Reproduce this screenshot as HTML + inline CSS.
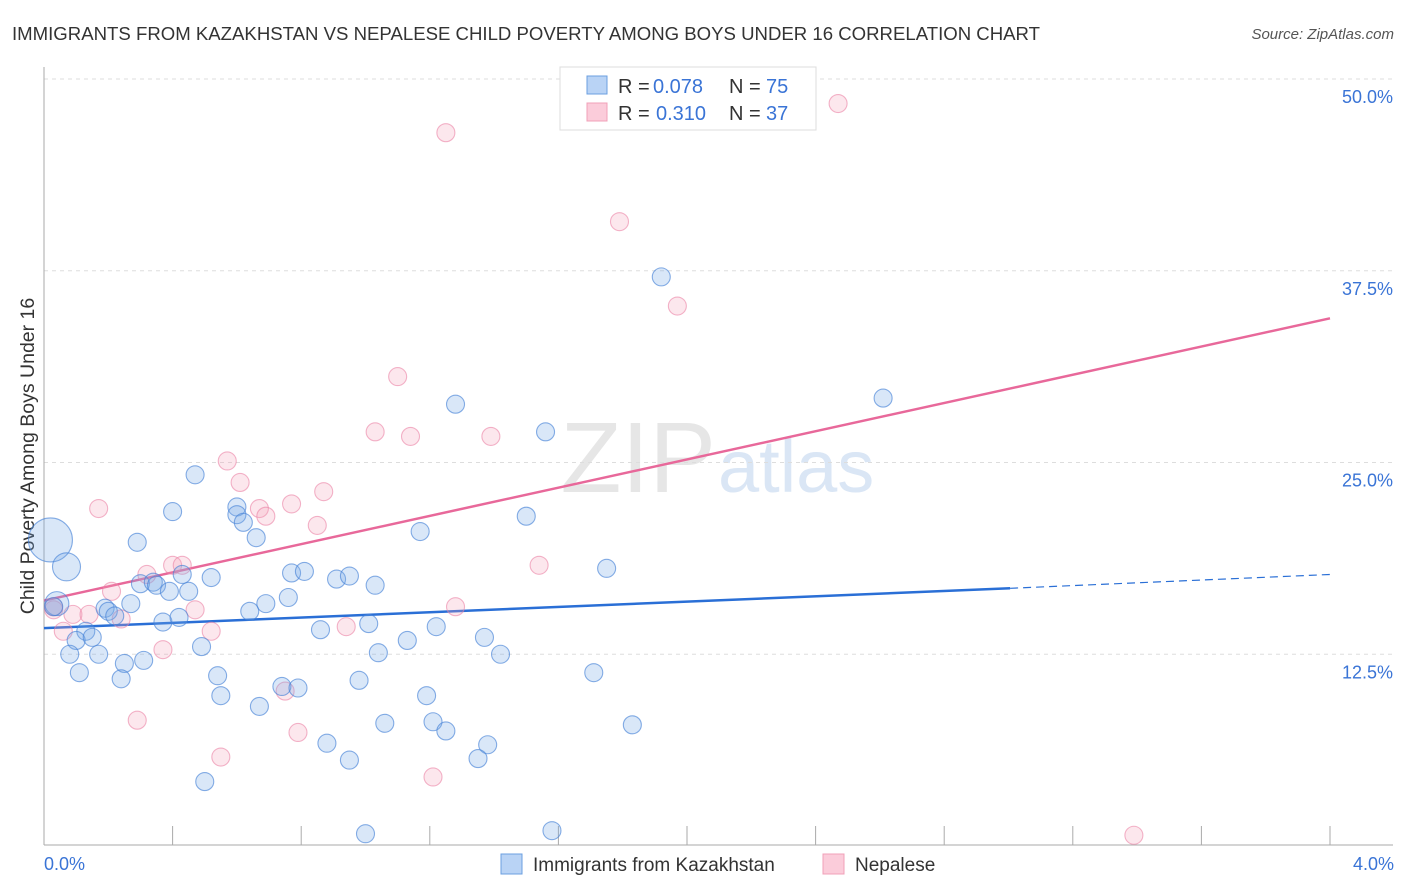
<!DOCTYPE html>
<html><head><meta charset="utf-8"><style>
body{margin:0;background:#fff;font-family:"Liberation Sans",sans-serif;}
#wrap{position:relative;width:1406px;height:892px;overflow:hidden;}
svg text{font-family:"Liberation Sans",sans-serif;}
</style></head><body>
<div id="wrap">
<svg id="chart" width="1406" height="892">
<text x="12" y="40" font-size="18.6" fill="#333">IMMIGRANTS FROM KAZAKHSTAN VS NEPALESE CHILD POVERTY AMONG BOYS UNDER 16 CORRELATION CHART</text>
<text x="1394" y="39" font-size="15" fill="#555" font-style="italic" text-anchor="end">Source: ZipAtlas.com</text>
<text x="34" y="456" font-size="19.5" fill="#333" text-anchor="middle" transform="rotate(-90 34 456)">Child Poverty Among Boys Under 16</text>
<text x="716" y="492" font-size="100" fill="#e6e6e6" text-anchor="end" font-family="Liberation Serif">ZIP</text>
<text x="718" y="492" font-size="74" fill="#dae6f5">atlas</text>
<g id="grid"></g><g id="axes"></g><g id="trend"></g><g id="pts"></g>
<g>
<rect x="560" y="67" width="256" height="63" fill="#fff" stroke="#ddd"/>
<rect x="587" y="76" width="20" height="18" fill="#b9d3f5" stroke="#6b9fe0"/>
<rect x="587" y="103" width="20" height="18" fill="#fbccda" stroke="#f0a0b8"/>
<text x="618" y="93" font-size="20" fill="#333">R =</text>
<text x="653" y="93" font-size="20" fill="#3a74d6">0.078</text>
<text x="729" y="93" font-size="20" fill="#333">N =</text>
<text x="766" y="93" font-size="20" fill="#3a74d6">75</text>
<text x="618" y="120" font-size="20" fill="#333">R =</text>
<text x="656" y="120" font-size="20" fill="#3a74d6">0.310</text>
<text x="729" y="120" font-size="20" fill="#333">N =</text>
<text x="766" y="120" font-size="20" fill="#3a74d6">37</text>
</g>
<g>
<rect x="501" y="854" width="21" height="20" fill="#b9d3f5" stroke="#6b9fe0"/>
<text x="533" y="871" font-size="19" fill="#333">Immigrants from Kazakhstan</text>
<rect x="823" y="854" width="21" height="20" fill="#fbccda" stroke="#f0a0b8"/>
<text x="855" y="871" font-size="19" fill="#333">Nepalese</text>
</g>
</svg></div>
<script>
const xTicks=[0,0.4,0.8,1.2,1.6,2.0,2.4,2.8,3.2,3.6,4.0];
const yTicks=[12.5,25,37.5,50];
const yTickLabels=["12.5%","25.0%","37.5%","50.0%"];
const xLabels=["0.0%","4.0%"];
const blueX=[0.02,0.07,0.04,0.29,0.40,0.47,0.60,0.60,0.62,0.66,1.17,1.28,1.56,1.50,1.92,2.61,1.75,0.30,0.34,0.35,0.39,0.43,0.45,0.52,0.77,0.81,0.91,0.95,1.03,0.19,0.20,0.22,0.27,0.37,0.42,0.64,0.69,0.76,0.86,1.01,1.22,1.37,1.42,1.13,1.04,0.13,0.10,0.15,0.08,0.17,0.11,0.25,0.31,0.24,0.49,0.54,0.55,0.67,0.74,0.79,0.98,1.19,1.06,1.21,1.25,0.88,0.95,1.38,1.35,0.50,1.00,1.58,1.71,1.83,0.03];
const blueY=[19.95,18.2,15.8,19.8,21.8,24.2,22.1,21.6,21.1,20.1,20.5,28.8,27.0,21.5,37.1,29.2,18.1,17.1,17.2,17.0,16.6,17.7,16.6,17.5,17.8,17.9,17.4,17.6,17.0,15.5,15.3,15.0,15.8,14.6,14.9,15.3,15.8,16.2,14.1,14.5,14.3,13.6,12.5,13.4,12.6,14.0,13.4,13.6,12.5,12.5,11.3,11.9,12.1,10.9,13.0,11.1,9.8,9.1,10.4,10.3,10.8,9.8,8.0,8.1,7.5,6.7,5.6,6.6,5.7,4.2,0.8,1.0,11.3,7.9,15.6];
const blueR=[22,14,12];
const pinkX=[1.25,2.47,1.79,1.97,1.10,1.03,1.14,1.39,0.57,0.61,0.87,0.17,0.67,0.69,0.77,0.85,1.54,0.40,0.43,0.32,0.21,0.03,0.03,0.09,0.14,0.24,0.47,1.28,0.06,0.52,0.94,0.37,0.75,0.29,0.79,0.55,1.21,3.39];
const pinkY=[46.5,48.4,40.7,35.2,30.6,27.0,26.7,26.7,25.1,23.7,23.1,22.0,22.0,21.5,22.3,20.9,18.3,18.3,18.3,17.7,16.6,15.4,15.6,15.1,15.1,14.8,15.4,15.6,14.0,14.0,14.3,12.8,10.1,8.2,7.4,5.8,4.5,0.7];
const blueTrend=[14.2,16.8,17.7], blueTrendX=[0,3.005,4.0];
const pinkTrend=[16.0,34.4], pinkTrendX=[0,4.0];
const X=v=>44+v/4*1286, Y=v=>846-v/50*767;
const NS="http://www.w3.org/2000/svg";
function mk(p,t,a){const e=document.createElementNS(NS,t);for(const k in a)e.setAttribute(k,a[k]);p.appendChild(e);return e;}
const grid=document.getElementById('grid'),axes=document.getElementById('axes'),trend=document.getElementById('trend'),pts=document.getElementById('pts');
yTicks.forEach((v,i)=>{
 const l=mk(grid,'line',{x1:44,x2:1393,y1:Y(v),y2:Y(v),stroke:'#ddd','stroke-dasharray':'4,4'});
 
 
 const t=mk(axes,'text',{x:1393,y:Y(v)+24,'font-size':18,fill:'#3a74d6','text-anchor':'end'});t.textContent=yTickLabels[i];
 
 
});
const ax=mk(axes,'line',{x1:44,x2:1393,y1:845,y2:845,stroke:'#aaa'});


const ay=mk(axes,'line',{x1:44,x2:44,y1:67,y2:845,stroke:'#aaa'});


xTicks.forEach(v=>{const t=mk(axes,'line',{x1:X(v),x2:X(v),y1:826,y2:845,stroke:'#aaa'});
 
 });
[[0,'start',44],[4,'end',1394]].forEach((d,i)=>{const t=mk(axes,'text',{x:d[2],y:870,'font-size':18,fill:'#3a74d6','text-anchor':d[1]});t.textContent=xLabels[i];
 
 });
function dot(x,y,r,fill,stroke,name){const c=mk(pts,'circle',{cx:X(x),cy:Y(y),r:r,fill:fill,stroke:stroke,'stroke-width':1.1});
 
 }
pinkX.forEach((x,i)=>dot(x,pinkY[i],9,'rgba(245,160,185,0.25)','rgba(235,130,165,0.6)','nepalese-point'));
blueX.forEach((x,i)=>dot(x,blueY[i],blueR[i]||9,'rgba(120,170,230,0.28)','rgba(70,130,215,0.65)','kazakhstan-point'));
const b1=mk(trend,'line',{x1:X(blueTrendX[0]),y1:Y(blueTrend[0]),x2:X(blueTrendX[1]),y2:Y(blueTrend[1]),stroke:'#2a6fd6','stroke-width':2.5});


const b2=mk(trend,'line',{x1:X(blueTrendX[1]),y1:Y(blueTrend[1]),x2:X(blueTrendX[2]),y2:Y(blueTrend[2]),stroke:'#2a6fd6','stroke-width':1.2,'stroke-dasharray':'8,5'});


const p1=mk(trend,'line',{x1:X(pinkTrendX[0]),y1:Y(pinkTrend[0]),x2:X(pinkTrendX[1]),y2:Y(pinkTrend[1]),stroke:'#e8689a','stroke-width':2.5});


</script></body></html>
